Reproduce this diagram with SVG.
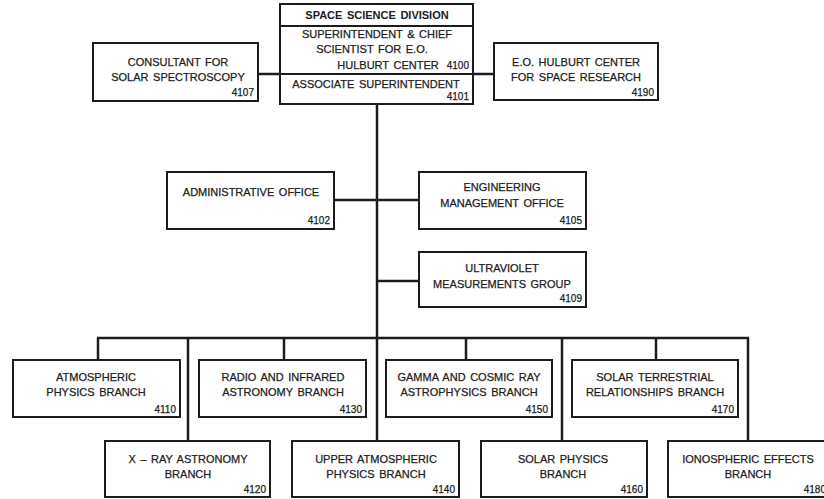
<svg xmlns="http://www.w3.org/2000/svg" width="824" height="499" viewBox="0 0 824 499">
<style>
.box{fill:#fff;stroke:#1c1c1c;stroke-width:2}
.ln{stroke:#1c1c1c;stroke-width:2.5;fill:none}
text{font-family:"Liberation Sans",Arial,sans-serif;font-size:11px;fill:#1c1c1c;stroke:#1c1c1c;stroke-width:0.25;word-spacing:1.5px}
.c{text-anchor:middle}
.n{text-anchor:end;font-size:10px}
.h{font-weight:bold;stroke-width:0}
</style>
<rect width="824" height="499" fill="#fff"/>
<g id="connectors">
<line class="ln" x1="258" y1="74" x2="280" y2="74"/>
<line class="ln" x1="473" y1="74" x2="494" y2="74"/>
<line class="ln" x1="377" y1="104" x2="377" y2="441"/>
<line class="ln" x1="334" y1="200" x2="419" y2="200"/>
<line class="ln" x1="377" y1="281" x2="419" y2="281"/>
<line class="ln" x1="97" y1="338" x2="749" y2="338"/>
<line class="ln" x1="98" y1="338" x2="98" y2="360"/>
<line class="ln" x1="284" y1="338" x2="284" y2="360"/>
<line class="ln" x1="466" y1="338" x2="466" y2="360"/>
<line class="ln" x1="656" y1="338" x2="656" y2="360"/>
<line class="ln" x1="188" y1="338" x2="188" y2="441"/>
<line class="ln" x1="562" y1="338" x2="562" y2="441"/>
<line class="ln" x1="748" y1="338" x2="748" y2="441"/>
</g>
<g id="space-science-division">
<rect class="box" x="280" y="4" width="193" height="100"/>
<line class="ln" x1="280" y1="26" x2="473" y2="26" style="stroke-width:2"/>
<line class="ln" x1="280" y1="74" x2="473" y2="74" style="stroke-width:2"/>
<text class="c h" x="377" y="19">SPACE SCIENCE DIVISION</text>
<text class="c" x="377" y="38">SUPERINTENDENT &amp; CHIEF</text>
<text class="c" x="372" y="53">SCIENTIST FOR E.O.</text>
<text class="c" x="388" y="69">HULBURT CENTER</text>
<text class="n" x="469" y="69">4100</text>
<text class="c" x="376" y="88">ASSOCIATE SUPERINTENDENT</text>
<text class="n" x="469" y="100">4101</text>
</g>
<g id="consultant">
<rect class="box" x="93" y="43" width="165" height="58"/>
<text class="c" x="178" y="66">CONSULTANT FOR</text>
<text class="c" x="178" y="81">SOLAR SPECTROSCOPY</text>
<text class="n" x="254" y="96">4107</text>
</g>
<g id="eo-hulburt">
<rect class="box" x="494" y="43" width="164" height="57"/>
<text class="c" x="576" y="66">E.O. HULBURT CENTER</text>
<text class="c" x="576" y="81">FOR SPACE RESEARCH</text>
<text class="n" x="654" y="96">4190</text>
</g>
<g id="admin">
<rect class="box" x="167" y="172" width="167" height="57"/>
<text class="c" x="251" y="196">ADMINISTRATIVE OFFICE</text>
<text class="n" x="330" y="224">4102</text>
</g>
<g id="engineering">
<rect class="box" x="419" y="172" width="167" height="57"/>
<text class="c" x="502" y="191">ENGINEERING</text>
<text class="c" x="502" y="207">MANAGEMENT OFFICE</text>
<text class="n" x="582" y="224">4105</text>
</g>
<g id="ultraviolet">
<rect class="box" x="419" y="252" width="167" height="55"/>
<text class="c" x="502" y="272">ULTRAVIOLET</text>
<text class="c" x="502" y="288">MEASUREMENTS GROUP</text>
<text class="n" x="582" y="302">4109</text>
</g>
<g id="atmospheric">
<rect class="box" x="13" y="360" width="167" height="57"/>
<text class="c" x="96" y="381">ATMOSPHERIC</text>
<text class="c" x="96" y="396">PHYSICS BRANCH</text>
<text class="n" x="176" y="413">4110</text>
</g>
<g id="radio-infrared">
<rect class="box" x="199" y="360" width="167" height="57"/>
<text class="c" x="283" y="381">RADIO AND INFRARED</text>
<text class="c" x="283" y="396">ASTRONOMY BRANCH</text>
<text class="n" x="362" y="413">4130</text>
</g>
<g id="gamma-cosmic">
<rect class="box" x="386" y="360" width="166" height="57"/>
<text class="c" x="469" y="381">GAMMA AND COSMIC RAY</text>
<text class="c" x="469" y="396">ASTROPHYSICS BRANCH</text>
<text class="n" x="548" y="413">4150</text>
</g>
<g id="solar-terrestrial">
<rect class="box" x="572" y="360" width="166" height="57"/>
<text class="c" x="655" y="381">SOLAR TERRESTRIAL</text>
<text class="c" x="655" y="396">RELATIONSHIPS BRANCH</text>
<text class="n" x="734" y="413">4170</text>
</g>
<g id="x-ray">
<rect class="box" x="105" y="441" width="165" height="56"/>
<text class="c" x="188" y="463">X – RAY ASTRONOMY</text>
<text class="c" x="188" y="478">BRANCH</text>
<text class="n" x="266" y="493">4120</text>
</g>
<g id="upper-atmospheric">
<rect class="box" x="292" y="441" width="167" height="56"/>
<text class="c" x="376" y="463">UPPER ATMOSPHERIC</text>
<text class="c" x="376" y="478">PHYSICS BRANCH</text>
<text class="n" x="455" y="493">4140</text>
</g>
<g id="solar-physics">
<rect class="box" x="481" y="441" width="166" height="56"/>
<text class="c" x="563" y="463">SOLAR PHYSICS</text>
<text class="c" x="563" y="478">BRANCH</text>
<text class="n" x="643" y="493">4160</text>
</g>
<g id="ionospheric">
<rect class="box" x="668" y="441" width="162" height="56"/>
<text class="c" x="748" y="463">IONOSPHERIC EFFECTS</text>
<text class="c" x="748" y="478">BRANCH</text>
<text class="n" x="826" y="493">4180</text>
</g>
</svg>
